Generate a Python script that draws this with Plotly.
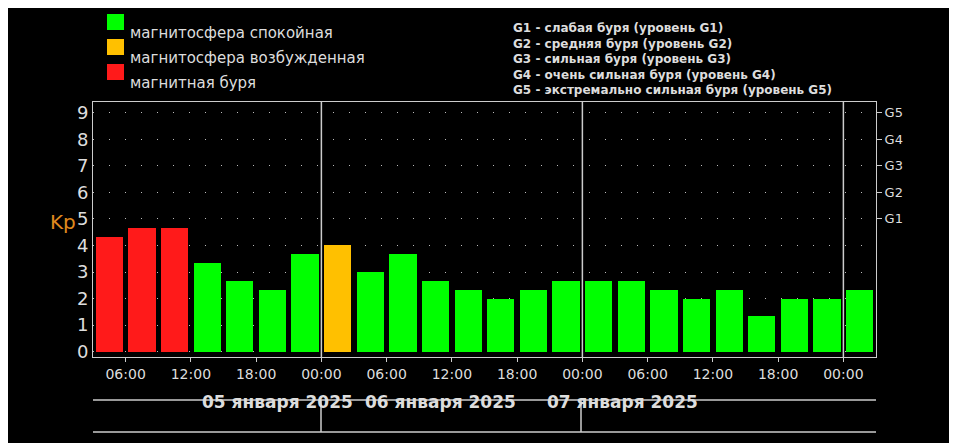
import plotly.graph_objects as go

kp = [4.33, 4.67, 4.67, 3.33, 2.67, 2.33, 3.67,
      4.0, 3.0, 3.67, 2.67, 2.33, 2.0, 2.33, 2.67,
      2.67, 2.67, 2.33, 2.0, 2.33, 1.33, 2.0, 2.0, 2.33]
state = ["storm", "storm", "storm", "quiet", "quiet", "quiet", "quiet",
         "active", "quiet", "quiet", "quiet", "quiet", "quiet", "quiet", "quiet",
         "quiet", "quiet", "quiet", "quiet", "quiet", "quiet", "quiet", "quiet", "quiet"]
hours = [4.5 + 3 * i for i in range(len(kp))]
tick_hours = [6, 12, 18, 24, 30, 36, 42, 48, 54, 60, 66, 72]
tick_text = ["06:00", "12:00", "18:00", "00:00"] * 3
g_vals = [5, 6, 7, 8, 9]
g_text = ["G1", "G2", "G3", "G4", "G5"]
days = ["05 января 2025", "06 января 2025", "07 января 2025"]
legend_left = [("магнитосфера спокойная", "#00ff00"),
               ("магнитосфера возбужденная", "#ffc000"),
               ("магнитная буря", "#ff1a1a")]
legend_right = ["G1 - слабая буря (уровень G1)", "G2 - средняя буря (уровень G2)",
                "G3 - сильная буря (уровень G3)", "G4 - очень сильная буря (уровень G4)",
                "G5 - экстремально сильная буря (уровень G5)"]
colors = {"storm": "#ff1a1a", "active": "#ffc000", "quiet": "#00ff00"}

OFF = 8
W, H = 957 - OFF, 443 - OFF
L, R, T, B = 93 - OFF, 957 - 876, 102 - OFF, 443 - 357

fig = go.Figure()
fig.add_trace(go.Bar(x=hours, y=kp, width=2.5, marker_color=[colors[s] for s in state],
                     marker_line_width=0, showlegend=False))
fig.add_trace(go.Scatter(x=[hours[0]], y=[0], yaxis="y2", mode="markers",
                         marker_opacity=0, showlegend=False))
fig.update_layout(
    width=W, height=H, margin=dict(l=L, r=R, t=T, b=B),
    paper_bgcolor="black", plot_bgcolor="black",
    font=dict(family="DejaVu Sans", color="white"),
    xaxis=dict(range=[3, 75], tickvals=tick_hours, ticktext=tick_text, showgrid=False,
               showline=True, linecolor="#cccccc", mirror=True, ticks="outside",
               ticklen=4, tickcolor="#cccccc", tickfont=dict(size=14, color="#dddddd")),
    yaxis=dict(range=[-0.2, 9.4], tickvals=list(range(10)), showgrid=True,
               gridcolor="#bbbbbb", griddash="1px,15px", zeroline=False,
               showline=True, linecolor="#cccccc", ticks="", tickfont=dict(size=18, color="#dddddd")),
    yaxis2=dict(range=[-0.2, 9.4], overlaying="y", side="right", tickvals=g_vals, ticktext=g_text,
                showgrid=False, zeroline=False, showline=True, linecolor="#cccccc",
                ticks="outside", ticklen=5, tickcolor="#cccccc",
                tickfont=dict(size=13, color="#dddddd", family="DejaVu Sans")),
    bargap=0,
)
for d in [24, 48, 72]:
    fig.add_shape(type="line", x0=d, x1=d, y0=0, y1=1, yref="paper", line=dict(color="#cccccc", width=1.5))

def py(p):
    return (H - B - (p - OFF)) / (H - T - B)
def px(p):
    return ((p - OFF) - L) / (W - L - R)

fig.add_annotation(x=px(48), y=py(222), xref="paper", yref="paper", text="Kp", showarrow=False,
                   font=dict(size=20, color="#e08a1e"))
for yy in [400, 432]:
    fig.add_shape(type="line", xref="paper", yref="paper", x0=px(93), x1=px(876), y0=py(yy), y1=py(yy),
                  line=dict(color="#cccccc", width=1.5))
for xx in [321, 581]:
    fig.add_shape(type="line", xref="paper", yref="paper", x0=px(xx), x1=px(xx), y0=py(400), y1=py(432),
                  line=dict(color="#cccccc", width=1.5))
for xc, dtext in zip([200, 440, 700], days):
    fig.add_annotation(x=px(xc), y=py(414), xref="paper", yref="paper",
                       text="<b>%s</b>" % dtext, showarrow=False, font=dict(size=17, color="#dddddd"))
for i, (t, c) in enumerate(legend_left):
    yc = 22 + 25 * i
    fig.add_shape(type="rect", xref="paper", yref="paper", x0=px(107), x1=px(124),
                  y0=py(yc + 8), y1=py(yc - 8), fillcolor=c, line_width=0)
    fig.add_annotation(x=px(128), y=py(yc), xref="paper", yref="paper", text=t, showarrow=False,
                       xanchor="left", font=dict(size=15, color="#dddddd"))
for i, t in enumerate(legend_right):
    yc = 19 + 15.5 * i
    fig.add_annotation(x=px(511), y=py(yc), xref="paper", yref="paper", text="<b>%s</b>" % t,
                       showarrow=False, xanchor="left", font=dict(size=12, color="#dddddd"))
fig.write_html("out.html")
